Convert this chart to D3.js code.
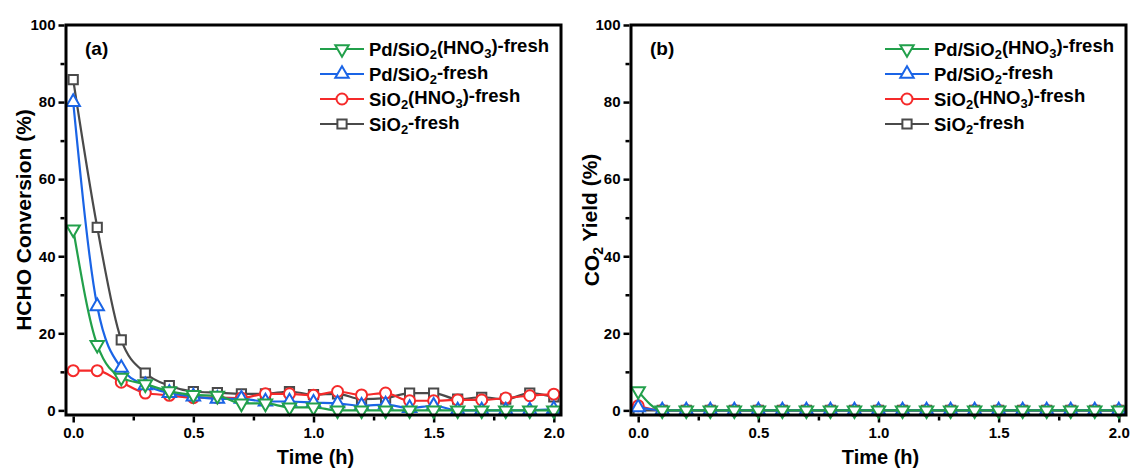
<!DOCTYPE html>
<html>
<head>
<meta charset="utf-8">
<script src="https://cdn.jsdelivr.net/npm/d3@7"></script>
<style>
  body { margin: 0; background: #fff; }
  svg text { font-family: "Liberation Sans", Arial, sans-serif; font-weight: bold; fill: #000; }
</style>
</head>
<body>
<div id="chart"></div>
<script>
'use strict';

// time points (h)
const times = [0.0, 0.1, 0.2, 0.3, 0.4, 0.5, 0.6, 0.7, 0.8, 0.9, 1.0,
               1.1, 1.2, 1.3, 1.4, 1.5, 1.6, 1.7, 1.8, 1.9, 2.0];

// (a) HCHO conversion (%)
const convPdSiO2HNO3 = [47, 17, 8.5, 6.8, 5, 4, 3.8, 1.8, 1.8, 0.8, 0.8, 0, 0, 0, 0, 0, 0, 0, 0, 0, 0];
const convPdSiO2     = [80, 27, 11, 6.5, 4.5, 3.6, 3, 3, 2.3, 2.3, 2, 1.8, 1.2, 1.5, 0.6, 1.2, 0, 0, 0, 0, 0.3];
const convSiO2HNO3   = [10.3, 10.3, 7.3, 4.5, 3.9, 3.3, 3.3, 3.2, 4.3, 4.3, 3.9, 4.9, 4.0, 4.5, 2.5, 2.5, 2.7, 2.7, 3.2, 3.8, 4.2];
const convSiO2       = [85.8, 47.5, 18.3, 9.7, 6.4, 4.9, 4.6, 4.3, 4.3, 4.9, 4.1, 4.3, 2.9, 3.2, 4.5, 4.5, 2.9, 3.4, 2.9, 4.5, 3.5];

// (b) CO2 yield (%)
const yieldPdSiO2HNO3 = [5, 0, 0, 0, 0, 0, 0, 0, 0, 0, 0, 0, 0, 0, 0, 0, 0, 0, 0, 0, 0];
const yieldPdSiO2     = [0.8, 0, 0, 0, 0, 0, 0, 0, 0, 0, 0, 0, 0, 0, 0, 0, 0, 0, 0, 0, 0];
const yieldSiO2HNO3   = [1.2, 0, 0, 0, 0, 0, 0, 0, 0, 0, 0, 0, 0, 0, 0, 0, 0, 0, 0, 0, 0];
const yieldSiO2       = [0, 0, 0, 0, 0, 0, 0, 0, 0, 0, 0, 0, 0, 0, 0, 0, 0, 0, 0, 0, 0];

// legend labels ("_n" = subscript), in legend order
const seriesNames = ['Pd/SiO_2(HNO_3)-fresh', 'Pd/SiO_2-fresh', 'SiO_2(HNO_3)-fresh', 'SiO_2-fresh'];

const xTicks = [0, 0.5, 1.0, 1.5, 2.0];
const xMinor = [0.25, 0.75, 1.25, 1.75];
const yTicks = [0, 20, 40, 60, 80, 100];
const yMinor = [10, 30, 50, 70, 90];

const styles = [
  { color: '#22a04b', shape: 'down' },
  { color: '#1a64e6', shape: 'up' },
  { color: '#f52a2a', shape: 'circle' },
  { color: '#4a4a4a', shape: 'square' }
];

const W = 1132, H = 471;
const svg = d3.select('#chart').append('svg')
    .attr('width', W)
    .attr('height', H);

svg.append('rect').attr('width', W).attr('height', H).attr('fill', '#fff');

function marker(shape) {
  if (shape === 'circle') return d3.symbol(d3.symbolCircle, 95)();
  if (shape === 'square') return d3.symbol(d3.symbolSquare, 85)();
  return d3.symbol(d3.symbolTriangle, 78)();
}

function richText(sel, str, subSize) {
  str.split(/_(\d)/).forEach((part, i) => {
    if (!part) return;
    if (i % 2 === 1) {
      sel.append('tspan').attr('font-size', subSize).attr('dy', '0.3em').text(part);
    } else {
      sel.append('tspan').attr('dy', i === 0 ? 0 : '-0.3em').text(part);
    }
  });
}

function drawPanel(left, tag, yTitle, titleGap, series) {
  const top = 25, bottom = 415, right = left + 495;

  const x = d3.scaleLinear().domain([-0.03, 2.03]).range([left, right]);
  const y = d3.scaleLinear().domain([-1.2, 100]).range([bottom, top]);

  const g = svg.append('g');

  // axes (outward ticks on left & bottom)
  const yAxis = d3.axisLeft(y).tickValues(yTicks).tickSize(6).tickSizeOuter(0).tickPadding(3);
  const yAxisMinor = d3.axisLeft(y).tickValues(yMinor).tickSize(4).tickSizeOuter(0).tickFormat('');
  const xAxis = d3.axisBottom(x).tickValues(xTicks).tickSize(6).tickSizeOuter(0).tickPadding(5)
      .tickFormat(d3.format('.1f'));
  const xAxisMinor = d3.axisBottom(x).tickValues(xMinor).tickSize(4).tickSizeOuter(0).tickFormat('');

  [[yAxis, `translate(${left - 1.5},0)`], [yAxisMinor, `translate(${left - 1.5},0)`],
   [xAxis, `translate(0,${bottom + 1.5})`], [xAxisMinor, `translate(0,${bottom + 1.5})`]]
    .forEach(([ax, tr]) => {
      const a = g.append('g').attr('transform', tr).call(ax);
      a.select('.domain').remove();
      a.selectAll('line').attr('stroke', '#000').attr('stroke-width', 2.5);
      a.selectAll('text').attr('font-size', 15).attr('font-family', '"Liberation Sans", Arial, sans-serif')
          .attr('font-weight', 'bold').attr('fill', '#000');
    });

  // series: draw gray, red, blue, green (green on top)
  const line = d3.line()
      .x((d, i) => x(times[i]))
      .y(d => y(d))
      .curve(d3.curveMonotoneX);

  [3, 2, 1, 0].forEach(k => {
    const st = styles[k];
    const vals = series[k];
    g.append('path')
        .attr('d', line(vals))
        .attr('fill', 'none')
        .attr('stroke', st.color)
        .attr('stroke-width', 2.2);
    g.selectAll(null)
        .data(vals)
      .enter().append('path')
        .attr('d', marker(st.shape))
        .attr('transform', (d, i) => `translate(${x(times[i])},${y(d)})` + (st.shape === 'down' ? ' rotate(180)' : ''))
        .attr('fill', '#fff')
        .attr('stroke', st.color)
        .attr('stroke-width', 2);
  });

  // frame
  g.append('rect')
      .attr('x', left).attr('y', top)
      .attr('width', right - left).attr('height', bottom - top)
      .attr('fill', 'none')
      .attr('stroke', '#000')
      .attr('stroke-width', 3);

  // panel tag
  g.append('text')
      .attr('x', left + 19).attr('y', 55)
      .attr('font-size', 19)
      .text(tag);

  // legend
  const legX = left + 254;
  seriesNames.forEach((name, k) => {
    const cy = 49 + k * 25;
    const st = styles[k];
    g.append('line')
        .attr('x1', legX).attr('x2', legX + 44)
        .attr('y1', cy).attr('y2', cy)
        .attr('stroke', st.color).attr('stroke-width', 2.2);
    g.append('path')
        .attr('d', marker(st.shape))
        .attr('transform', `translate(${legX + 22},${cy})` + (st.shape === 'down' ? ' rotate(180)' : ''))
        .attr('fill', '#fff')
        .attr('stroke', st.color)
        .attr('stroke-width', 2);
    const t = g.append('text')
        .attr('x', legX + 49).attr('y', cy + 6.5)
        .attr('font-size', 18.5);
    richText(t, name, 13);
  });

  // axis titles
  g.append('text')
      .attr('x', (left + right) / 2 + 2).attr('y', 464)
      .attr('text-anchor', 'middle')
      .attr('font-size', 20)
      .text('Time (h)');

  const yt = g.append('text')
      .attr('transform', `translate(${left - titleGap},${(top + bottom) / 2}) rotate(-90)`)
      .attr('text-anchor', 'middle')
      .attr('font-size', 21);
  richText(yt, yTitle, 14);
}

drawPanel(66, '(a)', 'HCHO Conversion (%)', 35,
  [convPdSiO2HNO3, convPdSiO2, convSiO2HNO3, convSiO2]);
drawPanel(631, '(b)', 'CO_2 Yield (%)', 32,
  [yieldPdSiO2HNO3, yieldPdSiO2, yieldSiO2HNO3, yieldSiO2]);
</script>
</body>
</html>
